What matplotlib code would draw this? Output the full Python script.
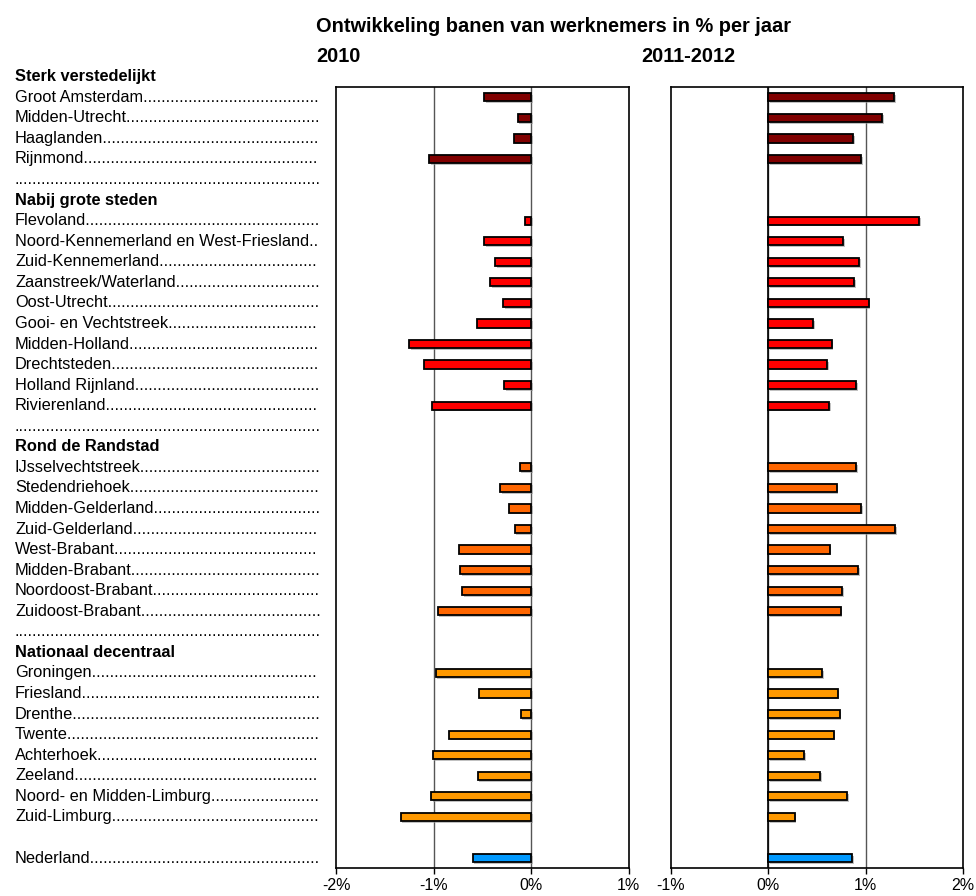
import numpy as np
import matplotlib.pyplot as plt
import matplotlib.patheffects as pe
from matplotlib.transforms import blended_transform_factory

plt.rcParams['font.family'] = ['Liberation Sans', 'DejaVu Sans']

# data
groups = ["Sterk verstedelijkt", "Nabij grote steden", "Rond de Randstad", "Nationaal decentraal"]
group_colors = ["#800000", "#FF0000", "#FF6600", "#FF9900"]

regions = [
    ["Groot Amsterdam", "Midden-Utrecht", "Haaglanden", "Rijnmond"],
    ["Flevoland", "Noord-Kennemerland en West-Friesland", "Zuid-Kennemerland",
     "Zaanstreek/Waterland", "Oost-Utrecht", "Gooi- en Vechtstreek", "Midden-Holland",
     "Drechtsteden", "Holland Rijnland", "Rivierenland"],
    ["IJsselvechtstreek", "Stedendriehoek", "Midden-Gelderland", "Zuid-Gelderland",
     "West-Brabant", "Midden-Brabant", "Noordoost-Brabant", "Zuidoost-Brabant"],
    ["Groningen", "Friesland", "Drenthe", "Twente", "Achterhoek", "Zeeland",
     "Noord- en Midden-Limburg", "Zuid-Limburg"],
]
v2010 = [
    [-0.48, -0.14, -0.18, -1.05],
    [-0.06, -0.48, -0.37, -0.42, -0.29, -0.56, -1.25, -1.10, -0.28, -1.02],
    [-0.12, -0.32, -0.23, -0.17, -0.74, -0.73, -0.71, -0.96],
    [-0.98, -0.54, -0.11, -0.84, -1.01, -0.55, -1.03, -1.34],
]
v1112 = [
    [1.29, 1.17, 0.87, 0.95],
    [1.55, 0.77, 0.93, 0.88, 1.03, 0.46, 0.65, 0.60, 0.90, 0.62],
    [0.90, 0.70, 0.95, 1.30, 0.63, 0.92, 0.76, 0.74],
    [0.55, 0.71, 0.73, 0.67, 0.37, 0.53, 0.81, 0.27],
]
nl_label = "Nederland"
nl_2010 = -0.60
nl_1112 = 0.86
nl_color = "#0099FF"

title = "Ontwikkeling banen van werknemers in % per jaar"
period_left = "2010"
period_right = "2011-2012"

# build rows: (label, kind, v1, v2, color), first row sits at y=-1
rows = []
for g, (name, regs) in enumerate(zip(groups, regions)):
    rows.append((name, "head", np.nan, np.nan, None))
    for r, a, b in zip(regs, v2010[g], v1112[g]):
        rows.append((r, "item", a, b, group_colors[g]))
    if g < len(groups) - 1:
        rows.append(("", "dots", np.nan, np.nan, None))
    else:
        rows.append(("", "blank", np.nan, np.nan, None))
rows.append((nl_label, "item", nl_2010, nl_1112, nl_color))

ypos = np.arange(len(rows)) - 1
bars = [(y, r) for y, r in zip(ypos, rows) if r[1] == "item"]
by = [y for y, r in bars]
b1 = [r[2] for y, r in bars]
b2 = [r[3] for y, r in bars]
bc = [r[4] for y, r in bars]

W, H = 976, 896
fig = plt.figure(figsize=(W / 100, H / 100), dpi=100)
ax1 = fig.add_axes([336.3 / W, 27.7 / H, 292.4 / W, 781.3 / H])
ax2 = fig.add_axes([671.0 / W, 27.7 / H, 292.3 / W, 781.3 / H])

shadow = [pe.SimplePatchShadow(offset=(1.2, -1.2), shadow_rgbFace="#999999", alpha=0.6), pe.Normal()]

for ax, vals, lim in [(ax1, b1, (-2, 1)), (ax2, b2, (-1, 2))]:
    ax.barh(by, vals, height=0.40, color=bc, edgecolor="black", linewidth=1.3,
            zorder=3, path_effects=shadow)
    ax.set_xlim(*lim)
    ax.set_ylim(37.5, -0.5)
    ticks = np.arange(lim[0], lim[1] + 1)
    ax.set_xticks(ticks)
    ax.set_xticklabels([f"{t:d}%" for t in ticks])
    for t in ticks[1:-1]:
        ax.axvline(t, color="#555555", linewidth=1.0, zorder=1)
    ax.set_yticks([])
    ax.tick_params(axis="x", direction="out", length=4, width=1, labelsize=11.5, pad=3)
    for s in ax.spines.values():
        s.set_linewidth(1.2)

ax2.axvline(0, color="black", linewidth=1.2, zorder=2)

# row labels with dotted leaders
fs = 11.8
x0 = 15 / W
x_end = 321
trans = blended_transform_factory(fig.transFigure, ax1.transData)
rend = fig.canvas.get_renderer()
probe = fig.text(0, 0, "." * 50, fontsize=fs)
w_dot = probe.get_window_extent(rend).width / 50
probe.remove()

for y, (lab, kind, a, b, c) in zip(ypos, rows):
    if kind == "blank":
        continue
    if kind == "head":
        fig.text(x0, y, lab, transform=trans, fontsize=fs, fontweight="bold", va="center")
        continue
    t = fig.text(x0, y, lab, transform=trans, fontsize=fs, va="center")
    w = t.get_window_extent(rend).width if lab else 0
    n = int((x_end - 15 - w) / w_dot)
    t.set_text(lab + "." * max(n, 0))

# titles
fig.text(316 / W, 1 - 27 / H, title, fontsize=14.4, fontweight="bold", va="center")
fig.text(316 / W, 1 - 57 / H, period_left, fontsize=14.4, fontweight="bold", va="center")
fig.text(641 / W, 1 - 57 / H, period_right, fontsize=14.4, fontweight="bold", va="center")

fig.savefig("out.png", dpi=100)
